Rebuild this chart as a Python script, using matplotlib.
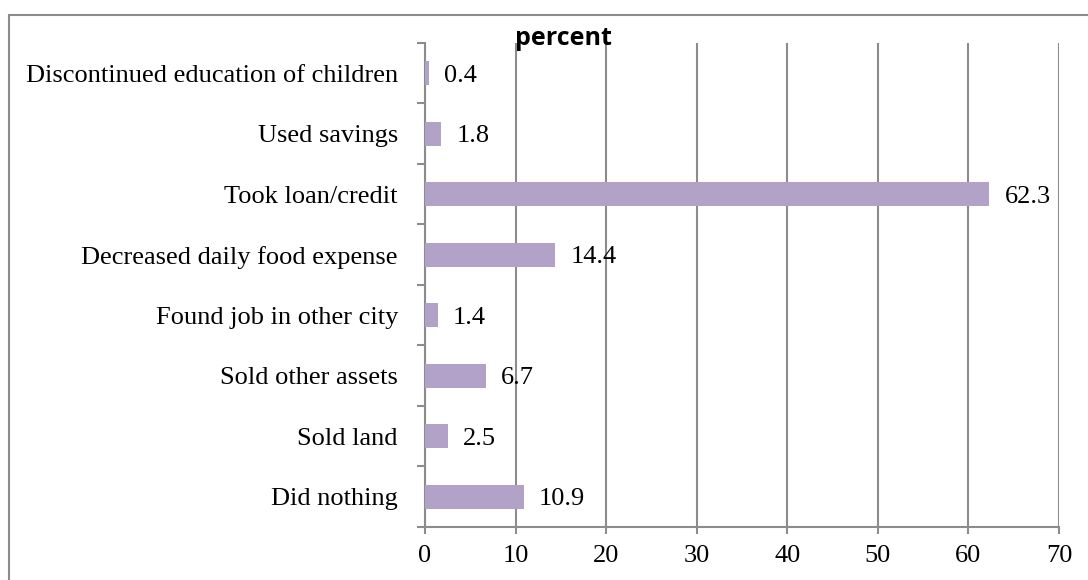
import matplotlib
matplotlib.use('Agg')
import matplotlib.pyplot as plt
import numpy as np
from matplotlib.patches import Rectangle

categories = ['Did nothing', 'Sold land', 'Sold other assets', 'Found job in other city',
              'Decreased daily food expense', 'Took loan/credit', 'Used savings',
              'Discontinued education of children']
values = [10.9, 2.5, 6.7, 1.4, 14.4, 62.3, 1.8, 0.4]
xticks = [0, 10, 20, 30, 40, 50, 60, 70]

bar_color = '#B3A2C7'
line_color = '#8C8C8C'

fig = plt.figure(figsize=(10.88, 5.8), dpi=100)
ax = fig.add_axes([0.3906, 0.0914, 0.9733 - 0.3906, 0.9259 - 0.0914])

y = np.arange(len(categories))
ax.barh(y, values, height=0.4, color=bar_color, zorder=3)

for yi, v in zip(y, values):
    ax.annotate(f'{v}', (v, yi), xytext=(11, 0), textcoords='offset points',
                va='center_baseline', ha='left', fontsize=19, family='Liberation Serif')

ax.set_xlim(0, 70)
ax.set_ylim(-0.5, len(categories) - 0.5)
ax.set_xticks(xticks)
ax.set_xticklabels([str(t) for t in xticks], fontsize=19, family='Liberation Serif')

# category boundaries carry the tick marks, centres carry the labels
ax.set_yticks(np.arange(-0.5, len(categories), 1))
ax.set_yticklabels([])
ax.set_yticks(y, minor=True)
ax.set_yticklabels(categories, minor=True, fontsize=19, family='Liberation Serif')
ax.tick_params(axis='y', which='minor', length=0, pad=19.5)
ax.tick_params(axis='y', which='major', length=6, width=1.5, color=line_color)
ax.tick_params(axis='x', length=5, width=1.5, color=line_color, pad=8)

ax.grid(axis='x', color=line_color, linewidth=1.5, zorder=0)
for s in ['top', 'right']:
    ax.spines[s].set_visible(False)
for s in ['left', 'bottom']:
    ax.spines[s].set_color(line_color)
    ax.spines[s].set_linewidth(1.5)

ax.text(0.218, 0.9959, 'percent', transform=ax.transAxes, ha='center', va='baseline',
        fontsize=18, fontweight='bold', family='Open Sans')

# outer chart border (cut off on the right and bottom)
fig.patches.append(Rectangle((9 / 1088, -0.1), 1.2, 1 - 15 / 580 + 0.1,
                             transform=fig.transFigure, fill=False,
                             edgecolor=line_color, linewidth=1.5))

plt.savefig('out.png', dpi=100)
